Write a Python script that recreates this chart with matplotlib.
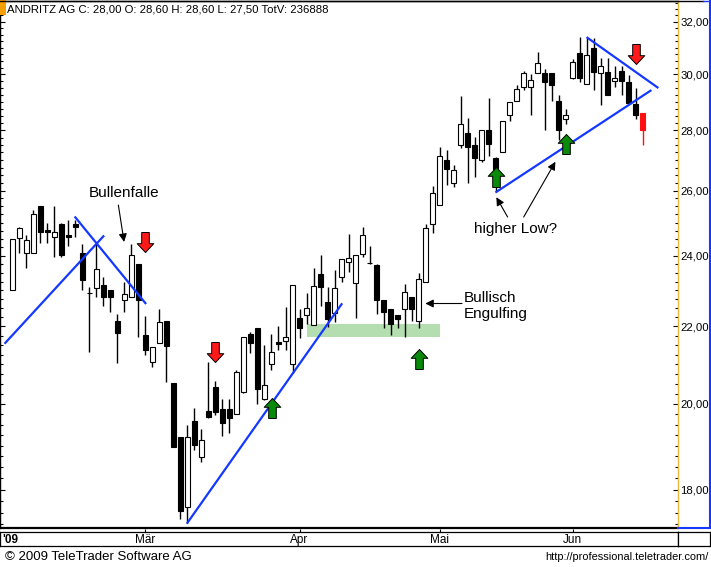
import numpy as np
import matplotlib.pyplot as plt
from matplotlib.path import Path
from matplotlib.lines import Line2D
from matplotlib.patches import Rectangle
from matplotlib.ticker import FixedLocator, NullFormatter, FuncFormatter

plt.rcParams['font.family'] = ['Liberation Sans', 'DejaVu Sans']

# --- Kursdaten (Handelstage ab Anfang Februar 2009) ---
opens = [23.01, 24.54, 24.07, 24.09, 25.51, 24.77, 24.55, 24.97, 24.62, 24.97,
         24.07, 22.92, 23.06, 23.15, 23.01, 22.14, 22.72, 22.82, 23.75, 21.77,
         21.05, 21.55, 22.14, 20.52, 19.21, 17.62, 19.59, 18.74, 19.83, 20.42,
         19.87, 19.87, 19.75, 20.29, 21.79, 21.95, 20.13, 21.01, 21.58, 21.60,
         21.02, 22.22, 22.31, 22.04, 23.47, 22.67, 22.37, 23.39, 23.82, 23.22,
         24.04, 23.78, 23.72, 22.72, 22.47, 22.31, 22.47, 22.80, 22.14, 23.23,
         24.95, 25.54, 27.01, 26.23, 27.50, 27.90, 27.50, 26.99, 28.01, 27.05,
         27.26, 28.53, 29.04, 29.53, 29.53, 30.04, 30.04, 30.04, 29.03, 28.38,
         29.86, 30.79, 29.63, 30.98, 30.04, 30.09, 29.77, 30.12, 29.70, 28.92,
         28.60]
highs = [24.51, 24.85, 24.62, 25.40, 25.51, 25.00, 25.51, 25.00, 25.07, 25.09,
         24.36, 23.10, 24.36, 23.37, 23.01, 22.33, 23.24, 24.36, 23.75, 22.28,
         21.46, 22.47, 22.14, 20.52, 19.21, 19.49, 19.91, 19.39, 21.07, 20.58,
         20.11, 20.11, 20.85, 21.71, 21.85, 21.95, 21.51, 21.81, 22.01, 22.53,
         23.16, 22.47, 22.93, 23.65, 24.02, 23.10, 23.58, 23.89, 24.65, 24.02,
         24.87, 24.30, 23.75, 22.72, 22.47, 22.31, 23.18, 22.80, 23.50, 24.97,
         26.16, 27.44, 27.33, 26.82, 29.21, 28.42, 27.78, 28.01, 29.13, 27.10,
         28.32, 29.01, 29.61, 30.14, 30.00, 30.82, 30.19, 30.04, 29.25, 28.76,
         30.56, 31.41, 31.37, 31.37, 30.60, 30.60, 30.31, 30.31, 29.97, 29.49,
         28.60]
lows = [23.01, 24.07, 23.63, 24.09, 24.38, 24.38, 23.95, 23.95, 24.30, 24.55,
        23.01, 21.33, 22.82, 22.56, 22.40, 21.04, 22.40, 22.82, 21.71, 21.24,
        20.94, 21.55, 20.56, 18.98, 17.37, 17.28, 18.90, 18.62, 19.65, 19.73,
        19.22, 19.29, 19.75, 20.27, 21.29, 19.99, 20.09, 20.85, 21.37, 21.37,
        20.77, 21.69, 22.08, 22.04, 22.56, 21.99, 22.12, 23.24, 23.53, 22.22,
        23.97, 23.75, 22.33, 21.95, 21.77, 21.95, 21.71, 22.14, 21.95, 23.23,
        24.67, 25.54, 26.18, 26.12, 27.39, 26.23, 26.44, 26.94, 27.12, 25.96,
        27.26, 28.33, 29.04, 29.41, 28.53, 30.04, 28.01, 29.03, 27.67, 28.21,
        29.83, 29.70, 29.63, 29.43, 28.90, 29.25, 29.52, 29.25, 28.95, 28.38,
        27.50]
closes = [24.51, 24.82, 24.48, 25.25, 24.72, 24.72, 24.70, 24.02, 24.55, 24.85,
          23.29, 22.92, 23.60, 22.82, 22.82, 21.83, 22.89, 24.01, 22.72, 21.37,
          21.46, 22.11, 21.49, 18.98, 17.53, 19.21, 19.02, 19.13, 19.68, 19.81,
          19.53, 19.65, 20.81, 21.71, 21.55, 20.37, 20.46, 21.31, 21.53, 21.71,
          23.16, 21.95, 22.51, 23.12, 23.08, 22.20, 23.06, 23.89, 23.92, 24.02,
          24.62, 23.78, 22.72, 22.40, 22.08, 22.19, 22.94, 22.47, 23.31, 24.82,
          25.92, 27.12, 26.71, 26.66, 28.21, 27.42, 27.05, 28.01, 27.53, 26.71,
          28.32, 29.01, 29.45, 30.06, 29.79, 30.41, 29.70, 29.61, 28.01, 28.55,
          30.47, 29.86, 30.72, 30.09, 30.31, 29.25, 29.86, 29.75, 28.95, 28.53,
          28.00]

month_labels = ['Mär', 'Apr', 'Mai', 'Jun']
month_idx = [19, 41, 61, 80]
price_ticks = [18, 20, 22, 24, 26, 28, 30, 32]

# Trendlinien: (x0, y0, x1, y1)
trend_lines = [(-1.0, 21.56, 13.0, 24.58),
               (9.0, 25.16, 19.0, 22.64),
               (25.0, 17.28, 47.0, 22.61),
               (69.1, 25.96, 91.1, 29.40),
               (82.1, 31.38, 92.1, 29.52)]
# Unterstützungszone (x0, x1, unten, oben)
zone = (42.0, 61.0, 21.72, 22.06)
# Signalpfeile
down_x = [18.9, 29.0, 89.1]
down_y = [24.40, 21.33, 30.76]
up_x = [37.1, 58.0, 69.0, 79.1]
up_y = [19.90, 21.14, 26.44, 27.54]

W, H = 711, 567
fig = plt.figure(figsize=(W / 100, H / 100), dpi=100)
fig.patch.set_facecolor('white')

ax = fig.add_axes([0, (H - 528) / H, 677.5 / W, 527 / H])
ax.set_yscale('log')
ax.set_xlim(-1.757, 94.96)
ax.set_ylim(17.17, 32.83)

idx = np.arange(len(closes))
o = np.array(opens)
c = np.array(closes)
hi = np.array(highs)
lo = np.array(lows)
body_col = np.where(c >= o, 'white', 'black')

# Kerzen
ax.vlines(idx[:-1], lo[:-1], hi[:-1], color='black', lw=1, zorder=2)
ax.bar(idx[:-1], (c - o)[:-1], bottom=o[:-1], width=0.7, color=body_col[:-1],
       edgecolor='black', lw=0.8, zorder=3)
ax.vlines(idx[-1], lo[-1], hi[-1], color='#ff1010', lw=1, zorder=2)
ax.bar(idx[-1], c[-1] - o[-1], bottom=o[-1], width=0.7, color='#ff1010',
       edgecolor='#ff1010', lw=0.8, zorder=3)

# Zone
ax.add_patch(Rectangle((zone[0], zone[2]), zone[1] - zone[0], zone[3] - zone[2],
                       facecolor='#b4deb0', edgecolor='none', zorder=1))

for x0, y0, x1, y1 in trend_lines:
    ax.plot([x0, x1], [y0, y1], color='#1438ff', lw=1.6, zorder=4)

# Blockpfeile als Marker
up_verts = [(0, 1), (0.83, 0.12), (0.38, 0.12), (0.38, -1), (-0.38, -1),
            (-0.38, 0.12), (-0.83, 0.12), (0, 1)]
up_arrow = Path(up_verts, closed=True)
down_arrow = Path([(x, -y) for x, y in up_verts], closed=True)
ax.plot(up_x, up_y, ls='none', marker=up_arrow, ms=14.4, mfc='#0a8a0a',
        mec='black', mew=0.7, zorder=5)
ax.plot(down_x, down_y, ls='none', marker=down_arrow, ms=14.4, mfc='#ff1a1a',
        mec='black', mew=0.7, zorder=5)

# Beschriftungen
arrow_kw = dict(arrowstyle='-|>', color='black', lw=0.8, mutation_scale=12,
                shrinkA=0, shrinkB=0)
ax.text(15.9, 25.94, 'Bullenfalle', fontsize=11, ha='center', va='center')
ax.annotate('', xy=(15.96, 24.41), xytext=(15.14, 25.54), arrowprops=arrow_kw)
ax.text(71.86, 24.80, 'higher Low?', fontsize=11, ha='center', va='center')
ax.annotate('', xy=(69.1, 25.79), xytext=(70.71, 25.17), arrowprops=arrow_kw)
ax.annotate('', xy=(77.53, 26.94), xytext=(73.0, 25.17), arrowprops=arrow_kw)
ax.text(64.43, 22.56, 'Bullisch\nEngulfing', fontsize=11, ha='left', va='center')
ax.annotate('', xy=(58.96, 22.63), xytext=(64.2, 22.63), arrowprops=arrow_kw)

# Achsen
ax.yaxis.set_major_locator(FixedLocator(price_ticks))
ax.yaxis.set_minor_locator(FixedLocator(np.arange(17.25, 32.8, 0.25)))
ax.yaxis.set_major_formatter(FuncFormatter(lambda v, _: f"{v:.2f}".replace('.', ',')))
ax.yaxis.set_minor_formatter(NullFormatter())
ax.tick_params(axis='y', which='both', direction='in', left=True, right=True,
               labelleft=False, labelright=True, color='black')
ax.tick_params(axis='y', which='major', length=3.8, width=0.8, pad=2, labelsize=8.2)
ax.tick_params(axis='y', which='minor', length=2.2, width=0.8)
ax.set_xticks([])
for s in ['left', 'top']:
    ax.spines[s].set_color('black')
    ax.spines[s].set_linewidth(1)
ax.spines['bottom'].set_linewidth(1.6)
ax.spines['right'].set_color('#e9b93a')
ax.spines['right'].set_linewidth(1)

# Datumsleiste
ax2 = fig.add_axes([0, (H - 545.7) / H, 677.5 / W, 14 / H])
ax2.set_xlim(ax.get_xlim())
ax2.set_ylim(0, 1)
ax2.set_yticks([])
ax2.set_xticks(month_idx)
ax2.tick_params(axis='x', direction='out', top=True, bottom=False, labelbottom=False,
                length=2, width=0.8)
for s in ax2.spines.values():
    s.set_linewidth(0.9)
for m, lab in zip(month_idx, month_labels):
    ax2.text(m, 0.4, lab, ha='center', va='center', fontsize=8.5)
ax2.text(2 / 677.5, 0.4, "'09", transform=ax2.transAxes, ha='left', va='center',
         fontsize=8.5, fontweight='bold')

ax3 = fig.add_axes([677.5 / W, (H - 545.7) / H, 32 / W, 14 / H])
ax3.set_xticks([])
ax3.set_yticks([])
for s in ax3.spines.values():
    s.set_linewidth(0.9)


def fig_line(x0, y0, x1, y1, color, lw=1.0):
    fig.add_artist(Line2D([x0 / W, x1 / W], [1 - y0 / H, 1 - y1 / H],
                          transform=fig.transFigure, color=color, lw=lw))


fig_line(0, 0.5, 703, 0.5, 'black')
fig_line(703, 0.5, 711, 0.5, '#1438ff')
fig_line(709.5, 0, 709.5, 528, '#1438ff', 1.5)
fig_line(677.5, 527.5, 709.5, 527.5, '#1438ff', 1.5)

# Kopfzeile und Fusszeile
fig.add_artist(Rectangle((0, 1 - 15 / H), 5.5 / W, 15 / H, transform=fig.transFigure,
                         facecolor='#f5a000', edgecolor='none'))
fig.text(7 / W, 1 - 10 / H, 'ANDRITZ AG C: 28,00 O: 28,60 H: 28,60 L: 27,50 TotV: 236888',
         ha='left', va='center', fontsize=8.2)
fig.text(5 / W, 1 - 556.7 / H, '\u00a9 2009 TeleTrader Software AG', ha='left',
         va='center', fontsize=9.5)
fig.text(709 / W, 1 - 556.7 / H, 'http://professional.teletrader.com/', ha='right',
         va='center', fontsize=7.9)

fig.savefig('out.png', dpi=100)
